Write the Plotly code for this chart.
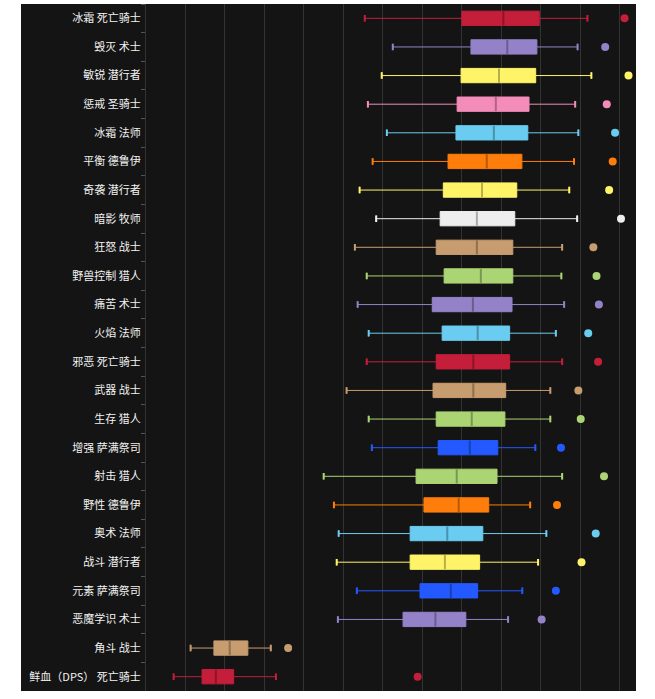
import plotly.graph_objects as go

# ---------------- data ----------------
categories = [
    "冰霜 死亡骑士", "毁灭 术士", "敏锐 潜行者", "惩戒 圣骑士", "冰霜 法师", "平衡 德鲁伊",
    "奇袭 潜行者", "暗影 牧师", "狂怒 战士", "野兽控制 猎人", "痛苦 术士", "火焰 法师",
    "邪恶 死亡骑士", "武器 战士", "生存 猎人", "增强 萨满祭司", "射击 猎人", "野性 德鲁伊",
    "奥术 法师", "战斗 潜行者", "元素 萨满祭司", "恶魔学识 术士", "角斗 战士", "鲜血（DPS） 死亡骑士",
]
classes = [
    "dk", "warlock", "rogue", "paladin", "mage", "druid",
    "rogue", "priest", "warrior", "hunter", "warlock", "mage",
    "dk", "warrior", "hunter", "shaman", "hunter", "druid",
    "mage", "rogue", "shaman", "warlock", "warrior", "dk",
]
lower_fence = [5.54, 6.25, 5.97, 5.62, 6.10, 5.74, 5.41, 5.83, 5.29, 5.59, 5.36, 5.64,
               5.59, 5.08, 5.64, 5.72, 4.50, 4.76, 4.88, 4.83, 5.34, 4.86, 1.13, 0.70]
q1 = [8.00, 8.23, 7.98, 7.88, 7.85, 7.65, 7.53, 7.45, 7.35, 7.55, 7.25, 7.50,
      7.35, 7.27, 7.35, 7.40, 6.84, 7.04, 6.69, 6.69, 6.94, 6.51, 1.72, 1.42]
median = [9.05, 9.15, 8.94, 8.86, 8.81, 8.63, 8.51, 8.38, 8.38, 8.48, 8.28, 8.40,
          8.29, 8.29, 8.25, 8.20, 7.87, 7.92, 7.63, 7.57, 7.72, 7.33, 2.12, 1.77]
q3 = [9.96, 9.90, 9.87, 9.70, 9.67, 9.52, 9.39, 9.34, 9.29, 9.29, 9.27, 9.21,
      9.21, 9.11, 9.09, 8.91, 8.89, 8.68, 8.53, 8.45, 8.40, 8.10, 2.58, 2.22]
upper_fence = [11.18, 10.93, 11.28, 10.87, 10.95, 10.84, 10.72, 10.92, 10.54, 10.52, 10.59, 10.38,
               10.54, 10.24, 10.24, 9.86, 10.54, 9.73, 10.14, 9.93, 9.53, 9.17, 3.16, 3.29]
outlier = [12.12, 11.63, 12.22, 11.67, 11.88, 11.82, 11.73, 12.03, 11.33, 11.41, 11.47, 11.20,
           11.45, 10.95, 11.01, 10.51, 11.60, 10.41, 11.39, 11.03, 10.38, 10.02, 3.60, 6.88]

class_colors = {
    "dk": "#C41E3A",
    "warlock": "#9482C9",
    "rogue": "#FFF468",
    "paladin": "#F48CBA",
    "mage": "#69CCF0",
    "druid": "#FF7D0A",
    "priest": "#EEEEEE",
    "warrior": "#C79C6E",
    "hunter": "#ABD473",
    "shaman": "#2459FF",
}

# ---------------- style ----------------
BG = "#141414"
GRID = "#333333"
BOX_W = 0.5
WHISKER_W = 0.45


def darken(hex_color, f=0.72):
    h = hex_color.lstrip("#")
    r, g, b = (int(h[i:i + 2], 16) for i in (0, 2, 4))
    return "#%02x%02x%02x" % (int(r * f), int(g * f), int(b * f))


colors = [class_colors[c] for c in classes]

fig = go.Figure()
for i, cat in enumerate(categories):
    c = colors[i]
    common = dict(orientation="h", boxpoints=False, hoverinfo="skip", showlegend=False)
    # main box + whiskers
    fig.add_trace(go.Box(
        y=[cat], q1=[q1[i]], median=[median[i]], q3=[q3[i]],
        lowerfence=[lower_fence[i]], upperfence=[upper_fence[i]],
        fillcolor=c, line=dict(color=c, width=1),
        width=BOX_W, whiskerwidth=WHISKER_W, **common))
    # darker median line
    m = median[i]
    fig.add_trace(go.Box(
        y=[cat], q1=[m], median=[m], q3=[m], lowerfence=[m], upperfence=[m],
        fillcolor=darken(c), line=dict(color=darken(c), width=2),
        width=BOX_W, whiskerwidth=0, **common))
    # thicker whisker caps
    lf, uf = lower_fence[i], upper_fence[i]
    fig.add_trace(go.Box(
        y=[cat, cat], q1=[lf, uf], median=[lf, uf], q3=[lf, uf],
        lowerfence=[lf, uf], upperfence=[lf, uf],
        fillcolor=c, line=dict(color=c, width=2),
        width=BOX_W * WHISKER_W, whiskerwidth=0, **common))

# outliers
fig.add_trace(go.Scatter(
    x=outlier, y=categories, mode="markers",
    marker=dict(color=colors, size=8, line=dict(width=0)),
    hoverinfo="skip", showlegend=False))

PLOT_L, PLOT_R = 146, 19
fig.update_layout(
    width=655, height=699,
    margin=dict(l=PLOT_L, r=PLOT_R, t=4, b=8, pad=0),
    paper_bgcolor="white",
    plot_bgcolor=BG,
    boxmode="overlay",
    font=dict(family="Noto Sans CJK SC", size=11, color="#f2f2f2"),
    xaxis=dict(range=[0, 12.41], tick0=0, dtick=1, showgrid=True, gridcolor=GRID,
               gridwidth=1, zeroline=False, showticklabels=False, ticks="",
               showline=False, fixedrange=True),
    yaxis=dict(type="category", categoryorder="array", categoryarray=categories,
               range=[len(categories) - 0.5, -0.5], autorange=False,
               showgrid=False, zeroline=False,
               ticks="outside", tickson="boundaries", ticklen=4, tickcolor="#555555",
               ticklabelstandoff=2,
               showline=True, linecolor=GRID, linewidth=1,
               tickfont=dict(family="Noto Sans CJK SC", size=11, color="#f2f2f2"),
               fixedrange=True),
    shapes=[dict(type="rect", xref="paper", yref="paper",
                 x0=-125 / 490, x1=1, y0=0, y1=1,
                 fillcolor=BG, line=dict(width=0), layer="below")],
)

fig.write_html("out.html", config={"displayModeBar": False},
               post_script="document.body.style.margin='0px';")
